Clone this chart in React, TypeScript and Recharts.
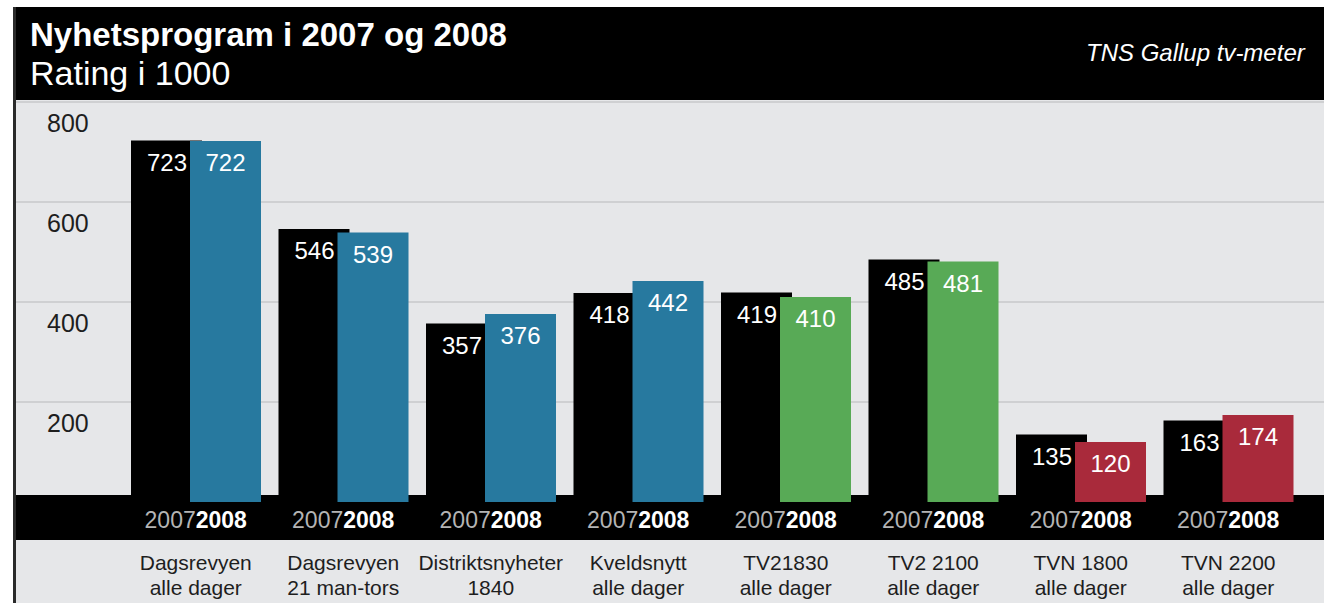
import React from 'react';
import { BarChart, Bar, XAxis, YAxis, CartesianGrid, Cell, LabelList } from 'recharts';

const categoriesLine1 = ['Dagsrevyen', 'Dagsrevyen', 'Distriktsnyheter', 'Kveldsnytt', 'TV21830', 'TV2 2100', 'TVN 1800', 'TVN 2200'];
const categoriesLine2 = ['alle dager', '21 man-tors', '1840', 'alle dager', 'alle dager', 'alle dager', 'alle dager', 'alle dager'];
const values2007 = [723, 546, 357, 418, 419, 485, 135, 163];
const values2008 = [722, 539, 376, 442, 410, 481, 120, 174];
const colors2008 = ['#27799f', '#27799f', '#27799f', '#27799f', '#58aa56', '#58aa56', '#a92a3b', '#a92a3b'];
const yTicks = [200, 400, 600, 800];
const yearLabels = ['2007', '2008'];

const data = categoriesLine1.map((c, i) => ({
  key: String(i),
  line1: c,
  line2: categoriesLine2[i],
  v2007: values2007[i],
  v2008: values2008[i],
}));

const FONT = '"Liberation Sans", Arial, sans-serif';

const YTick = (props: any) => {
  const { y, payload } = props;
  return (
    <text x={47} y={y + 30} fontSize={25} fill="#1e1e1e" fontFamily={FONT}>
      {payload.value}
    </text>
  );
};

const XTick = (props: any) => {
  const { x, payload } = props;
  const idx = Number(payload.value);
  return (
    <g>
      <text x={x} y={528} textAnchor="middle" fontSize={23} fontFamily={FONT}>
        <tspan fill="#b4b4b4">{yearLabels[0]}</tspan>
        <tspan fill="#ffffff" fontWeight="bold">{yearLabels[1]}</tspan>
      </text>
      <text x={x} y={570} textAnchor="middle" fontSize={21} fill="#1e1e1e" fontFamily={FONT}>
        {categoriesLine1[idx]}
      </text>
      <text x={x} y={595} textAnchor="middle" fontSize={21} fill="#1e1e1e" fontFamily={FONT}>
        {categoriesLine2[idx]}
      </text>
    </g>
  );
};

const Label2007 = (props: any) => {
  const { x, y, width, value } = props;
  return (
    <text x={x + width - 15} y={y + 30} textAnchor="end" fontSize={24} fill="#ffffff" fontFamily={FONT}>
      {value}
    </text>
  );
};

const Label2008 = (props: any) => {
  const { x, y, width, value } = props;
  return (
    <text x={x + width / 2} y={y + 30} textAnchor="middle" fontSize={24} fill="#ffffff" fontFamily={FONT}>
      {value}
    </text>
  );
};

export default function App() {
  return (
    <div style={{ position: 'relative', width: 1324, height: 603, overflow: 'hidden', background: '#ffffff' }}>
      <style>{'html,body{margin:0;padding:0;}'}</style>
      <div style={{ position: 'absolute', left: 13, top: 7, width: 1311, height: 93, background: '#000' }} />
      <div style={{ position: 'absolute', left: 16, top: 100, width: 1308, height: 395, background: '#e6e7e9' }} />
      <div style={{ position: 'absolute', left: 13, top: 495, width: 1311, height: 45, background: '#000' }} />
      <div style={{ position: 'absolute', left: 16, top: 540, width: 1308, height: 63, background: '#e6e7e9' }} />
      <div style={{ position: 'absolute', left: 13, top: 7, width: 3, height: 596, background: '#2a2a2a' }} />
      <svg width={1324} height={100} style={{ position: 'absolute', left: 0, top: 0 }}>
        <text x={30} y={46} fontSize={33} fontWeight="bold" fill="#fff" fontFamily={FONT}>Nyhetsprogram i 2007 og 2008</text>
        <text x={30} y={85} fontSize={34} fill="#fff" fontFamily={FONT}>Rating i 1000</text>
        <text x={1086} y={61} fontSize={24} fontStyle="italic" fill="#fff" fontFamily={FONT}>TNS Gallup tv-meter</text>
      </svg>
      <div style={{ position: 'absolute', left: 0, top: 0 }}>
        <BarChart width={1324} height={603} data={data} margin={{ top: 102, right: 0, bottom: 0, left: 0 }} barSize={71} barGap={-12}>
          <CartesianGrid vertical={false} horizontalValues={yTicks} stroke="#cfd0d2" strokeWidth={2} fill="none" />
          <XAxis dataKey="key" height={101} padding={{ left: 106, right: 22 }} axisLine={false} tickLine={false} interval={0} tick={<XTick />} />
          <YAxis domain={[0, 800]} ticks={yTicks} width={16} axisLine={false} tickLine={false} tick={<YTick />} />
          <Bar dataKey="v2007" fill="#000000" isAnimationActive={false}>
            <LabelList dataKey="v2007" content={<Label2007 />} />
          </Bar>
          <Bar dataKey="v2008" isAnimationActive={false}>
            {data.map((d, i) => (
              <Cell key={d.key} fill={colors2008[i]} />
            ))}
            <LabelList dataKey="v2008" content={<Label2008 />} />
          </Bar>
        </BarChart>
      </div>
    </div>
  );
}
